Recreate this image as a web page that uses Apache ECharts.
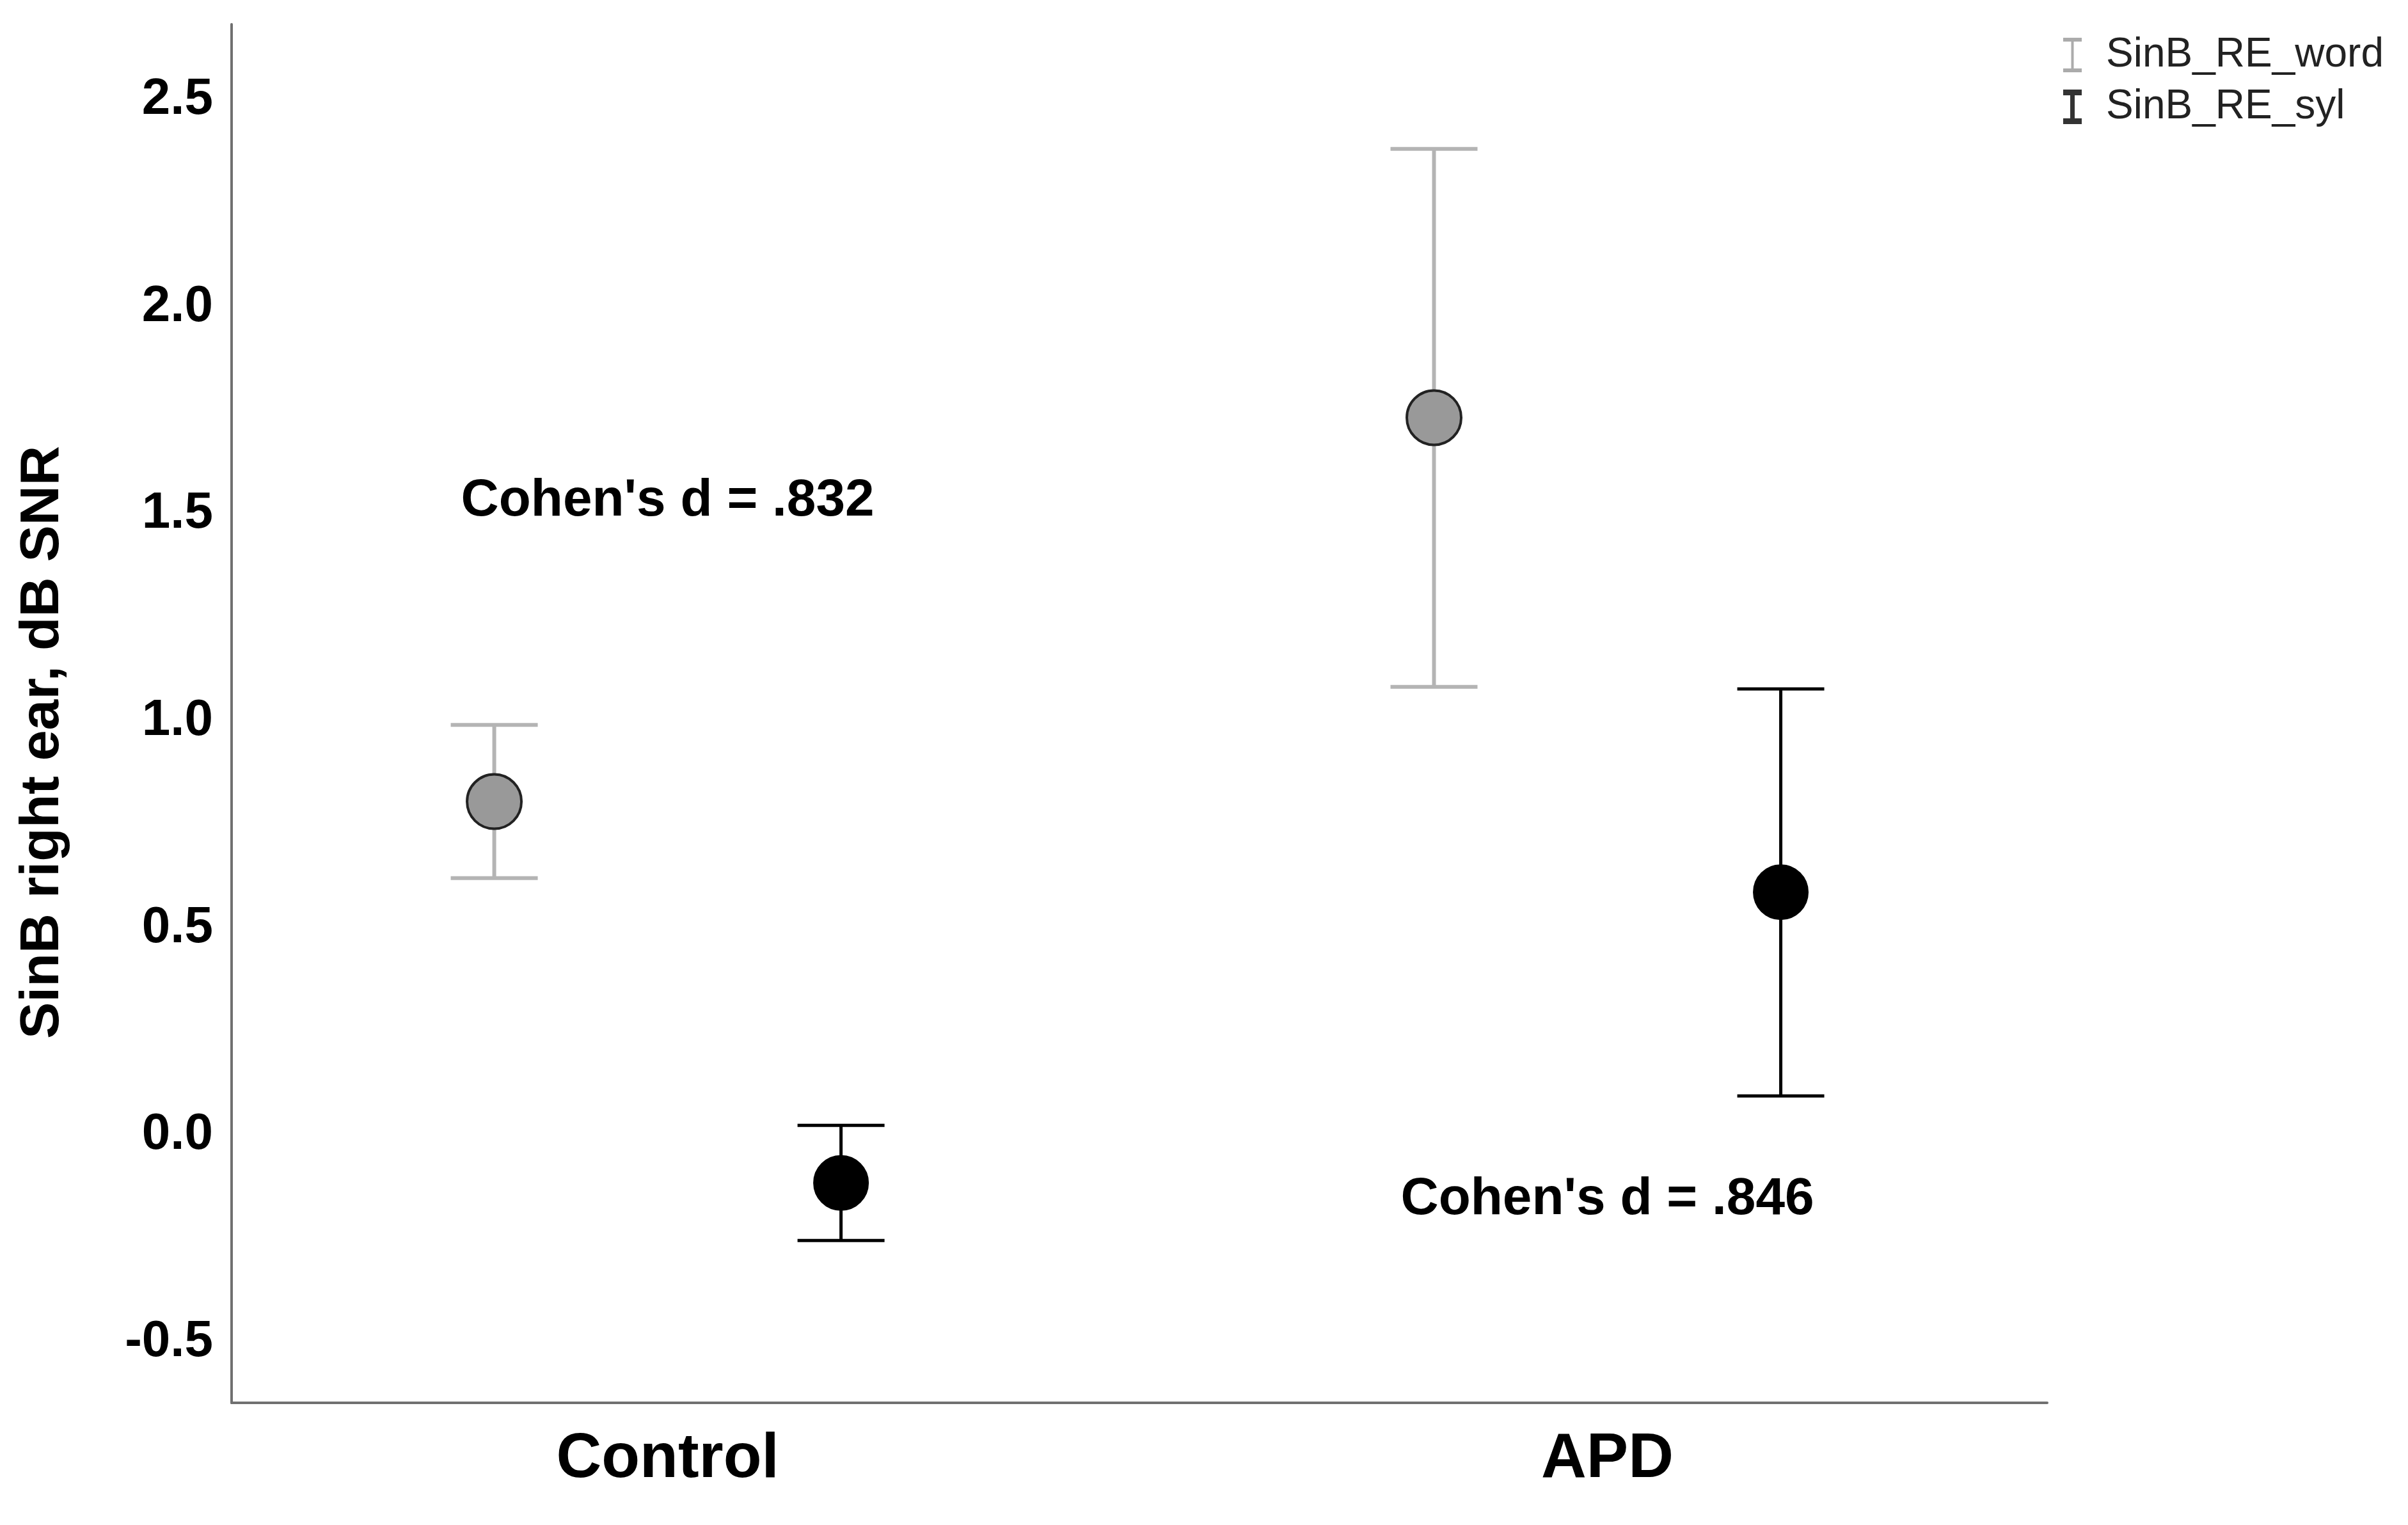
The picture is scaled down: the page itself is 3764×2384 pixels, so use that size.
<!DOCTYPE html>
<html>
<head>
<meta charset="utf-8">
<title>SinB right ear</title>
<script src="https://cdn.jsdelivr.net/npm/echarts@6/dist/echarts.min.js"></script>
<style>
  html, body { margin: 0; padding: 0; background: #fff; }
  #chart { width: 3764px; height: 2384px; }
</style>
</head>
<body>
<div id="chart"></div>
<script>
// groups on the x axis
const categories = ['Control', 'APD'];

// SinB_RE_word: mean and error bar ends
const wordMean = [0.805, 1.732];
const wordLow = [0.620, 1.082];
const wordHigh = [0.990, 2.381];

// SinB_RE_syl: mean and error bar ends
const sylMean = [-0.116, 0.586];
const sylLow = [-0.255, 0.094];
const sylHigh = [0.023, 1.077];

// y tick labels
const yTicks = [-0.5, 0.0, 0.5, 1.0, 1.5, 2.0, 2.5];

// effect size notes: [group index, y value, text]
const notes = [
  [0, 1.53, "Cohen's d = .832"],
  [1, -0.156, "Cohen's d = .846"]
];

const seriesNames = ['SinB_RE_word', 'SinB_RE_syl'];
const shift = 0.1845; // side offset of each series inside a group

const myChart = echarts.init(document.getElementById('chart'));

const barData = (low, high, dx) => categories.map((c, i) => [i + dx, low[i], high[i]]);
const meanData = (mean, dx) => categories.map((c, i) => [i + dx, mean[i]]);

const errorBar = (color, width) => (params, api) => {
  const x = api.value(0);
  const lo = api.coord([x, api.value(1)]);
  const hi = api.coord([x, api.value(2)]);
  const half = 68;
  const style = { stroke: color, lineWidth: width };
  return {
    type: 'group',
    children: [
      { type: 'line', shape: { x1: lo[0], y1: lo[1], x2: hi[0], y2: hi[1] }, style },
      { type: 'line', shape: { x1: hi[0] - half, y1: hi[1], x2: hi[0] + half, y2: hi[1] }, style },
      { type: 'line', shape: { x1: lo[0] - half, y1: lo[1], x2: lo[0] + half, y2: lo[1] }, style }
    ]
  };
};

const option = {
  animation: false,
  backgroundColor: '#fff',
  textStyle: { fontFamily: 'Liberation Sans, Arial, sans-serif' },
  grid: { left: 362, right: 564, top: 38, bottom: 191, containLabel: false, outerBoundsMode: 'none' },
  legend: {
    orient: 'vertical',
    left: 3225,
    top: 54,
    padding: 0,
    itemWidth: 29,
    itemHeight: 54,
    itemGap: 17,
    selectedMode: false,
    textStyle: { fontSize: 64, color: '#222', padding: [0, 0, 0, 33] },
    data: [
      { name: seriesNames[0], icon: 'path://M0,0H29V6H16.5V48H29V54H0V48H12.5V6H0Z',
        itemStyle: { color: '#ababab', borderWidth: 0 } },
      { name: seriesNames[1], icon: 'path://M0,0H29V9H18V45H29V54H0V45H11V9H0Z',
        itemStyle: { color: '#333', borderWidth: 0 } }
    ]
  },
  xAxis: {
    type: 'value',
    min: -0.464,
    max: 1.468,
    splitLine: { show: false },
    axisTick: { show: false },
    axisLine: { show: true, onZero: false, lineStyle: { color: '#707070', width: 4 } },
    axisLabel: {
      customValues: [0, 1],
      formatter: v => categories[Math.round(v)],
      fontSize: 98,
      fontWeight: 'bold',
      color: '#000',
      margin: 40
    }
  },
  yAxis: {
    type: 'value',
    min: -0.647,
    max: 2.682,
    name: 'SinB right ear, dB SNR',
    nameLocation: 'middle',
    nameRotate: 90,
    nameGap: 252,
    nameTextStyle: { fontSize: 86, fontWeight: 'bold', color: '#000', padding: [0, 90, 0, 0] },
    splitLine: { show: false },
    axisTick: { show: false },
    axisLine: { show: true, onZero: false, lineStyle: { color: '#707070', width: 4 } },
    axisLabel: {
      customValues: yTicks,
      formatter: v => v.toFixed(1),
      fontSize: 80,
      fontWeight: 'bold',
      color: '#000',
      margin: 29
    }
  },
  series: [
    {
      type: 'custom',
      name: 'wordBars',
      renderItem: errorBar('#b4b4b4', 6),
      data: barData(wordLow, wordHigh, -shift),
      z: 2
    },
    {
      type: 'custom',
      name: 'sylBars',
      renderItem: errorBar('#000', 5),
      data: barData(sylLow, sylHigh, shift),
      z: 2
    },
    {
      type: 'scatter',
      name: seriesNames[0],
      symbol: 'circle',
      symbolSize: 85,
      itemStyle: { color: '#999', borderColor: '#222', borderWidth: 4, opacity: 1 },
      data: meanData(wordMean, -shift),
      z: 5
    },
    {
      type: 'scatter',
      name: seriesNames[1],
      symbol: 'circle',
      symbolSize: 85,
      itemStyle: { color: '#000', borderColor: '#000', borderWidth: 2, opacity: 1 },
      data: meanData(sylMean, shift),
      z: 5
    },
    {
      type: 'scatter',
      name: 'notes',
      symbolSize: 1,
      itemStyle: { color: 'transparent', opacity: 1 },
      label: {
        show: true,
        position: 'inside',
        formatter: p => p.data[2],
        fontSize: 82,
        fontWeight: 'bold',
        color: '#000',
        textBorderWidth: 0,
        textBorderColor: 'transparent'
      },
      data: notes,
      z: 6
    }
  ]
};

myChart.setOption(option);
</script>
</body>
</html>
